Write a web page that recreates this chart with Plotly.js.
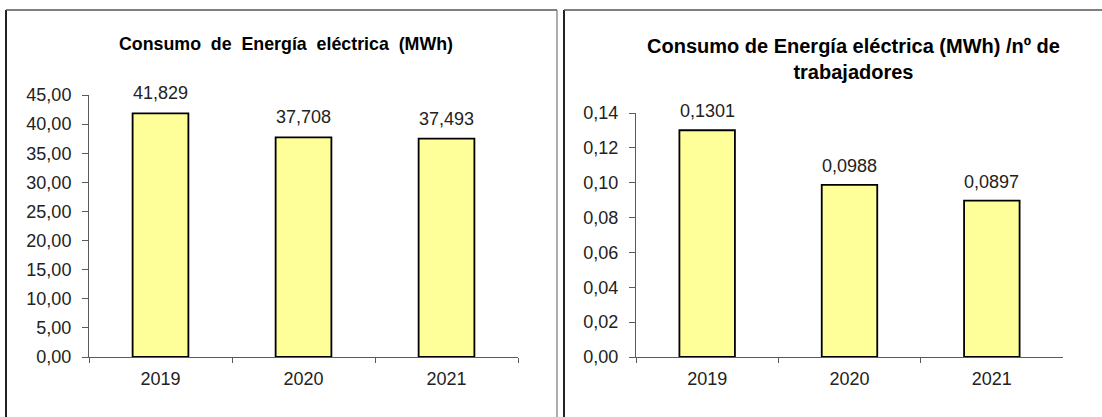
<!DOCTYPE html>
<html>
<head>
<meta charset="utf-8">
<script src="https://cdn.plot.ly/plotly-3.0.1.min.js"></script>
<style>
html,body{margin:0;padding:0;background:#fff;}
#chart{width:1102px;height:417px;}
</style>
</head>
<body>
<div id="chart"></div>
<script>
// ---- data ----
const years = ['2019', '2020', '2021'];
const consumo = [41.829, 37.708, 37.493];
const consumoPorTrabajador = [0.1301, 0.0988, 0.0897];
const titleLeft = 'Consumo  de  Energía  eléctrica  (MWh)';
const titleRight = 'Consumo de Energía eléctrica (MWh) /nº de<br>trabajadores';

const W = 1102, H = 417;
const px = v => v / W;
const py = v => (H - v) / H;

const font = 'Arial, "Liberation Sans", sans-serif';
const barStyle = {color: '#FFFF99', line: {color: '#000000', width: 1.8}};

const traces = [
  {type: 'bar', x: years, y: consumo, xaxis: 'x', yaxis: 'y', width: 0.39,
   marker: barStyle, hoverinfo: 'skip'},
  {type: 'bar', x: years, y: consumoPorTrabajador, xaxis: 'x2', yaxis: 'y2', width: 0.39,
   marker: barStyle, hoverinfo: 'skip'}
];

const annotations = [];
consumo.forEach((v, i) => annotations.push({
  xref: 'x', yref: 'y', x: i, y: v, text: v.toFixed(3).replace('.', ','),
  showarrow: false, yanchor: 'middle', yshift: 20,
  font: {family: font, size: 18, color: '#222'}
}));
consumoPorTrabajador.forEach((v, i) => annotations.push({
  xref: 'x2', yref: 'y2', x: i, y: v, text: v.toFixed(4).replace('.', ','),
  showarrow: false, yanchor: 'middle', yshift: 19,
  font: {family: font, size: 18, color: '#222'}
}));
annotations.push({
  xref: 'paper', yref: 'paper', x: px(286), y: py(44), text: '<b>' + titleLeft + '</b>',
  showarrow: false, xanchor: 'center', yanchor: 'middle',
  font: {family: font, size: 17.8, color: '#000'}
});
annotations.push({
  xref: 'paper', yref: 'paper', x: px(853), y: py(58.5), text: '<b>' + titleRight + '</b>',
  showarrow: false, xanchor: 'center', yanchor: 'middle', align: 'center',
  font: {family: font, size: 20, color: '#000'}
});

const xCommon = {
  type: 'category', range: [-0.5, 2.5], autorange: false,
  showgrid: false, zeroline: false, showline: true,
  linecolor: '#5a5a5a', linewidth: 1, ticks: 'outside', tickson: 'boundaries',
  ticklen: 5, tickcolor: '#5a5a5a', tickwidth: 1, ticklabelstandoff: 5,
  tickangle: 0,
  tickfont: {family: font, size: 18, color: '#222'}, fixedrange: true
};
const yCommon = {
  showgrid: false, zeroline: false, showline: true,
  linecolor: '#5a5a5a', linewidth: 1, ticks: 'outside', ticklen: 6,
  tickcolor: '#5a5a5a', tickwidth: 1, ticklabelstandoff: 7,
  tickfont: {family: font, size: 18, color: '#222'}, fixedrange: true
};

const layout = {
  width: W, height: H,
  margin: {l: 0, r: 0, t: 0, b: 0},
  paper_bgcolor: '#fff', plot_bgcolor: 'rgba(0,0,0,0)',
  separators: ',.',
  showlegend: false,
  xaxis: Object.assign({}, xCommon, {domain: [px(89), px(518)], anchor: 'y'}),
  yaxis: Object.assign({}, yCommon, {domain: [py(357), py(95)], range: [0, 45], autorange: false, dtick: 5, tickformat: '.2f', anchor: 'x'}),
  xaxis2: Object.assign({}, xCommon, {domain: [px(636), px(1063)], anchor: 'y2'}),
  yaxis2: Object.assign({}, yCommon, {domain: [py(357), py(113)], range: [0, 0.14], autorange: false, dtick: 0.02, tickformat: '.2f', anchor: 'x2'}),
  annotations: annotations,
  shapes: [
    // left panel frame
    {type: 'line', xref: 'paper', yref: 'paper', x0: px(6), x1: px(6), y0: py(10), y1: py(420), line: {color: '#222', width: 2}},
    {type: 'line', xref: 'paper', yref: 'paper', x0: px(6), x1: px(557), y0: py(10), y1: py(10), line: {color: '#555', width: 1.5}},
    {type: 'line', xref: 'paper', yref: 'paper', x0: px(557), x1: px(557), y0: py(10), y1: py(420), line: {color: '#777', width: 1.2}},
    // right panel frame
    {type: 'line', xref: 'paper', yref: 'paper', x0: px(564), x1: px(564), y0: py(10), y1: py(420), line: {color: '#222', width: 2}},
    {type: 'line', xref: 'paper', yref: 'paper', x0: px(564), x1: px(1102), y0: py(10), y1: py(10), line: {color: '#555', width: 1.5}}
  ]
};

Plotly.newPlot('chart', traces, layout, {staticPlot: true, displayModeBar: false});
</script>
</body>
</html>
